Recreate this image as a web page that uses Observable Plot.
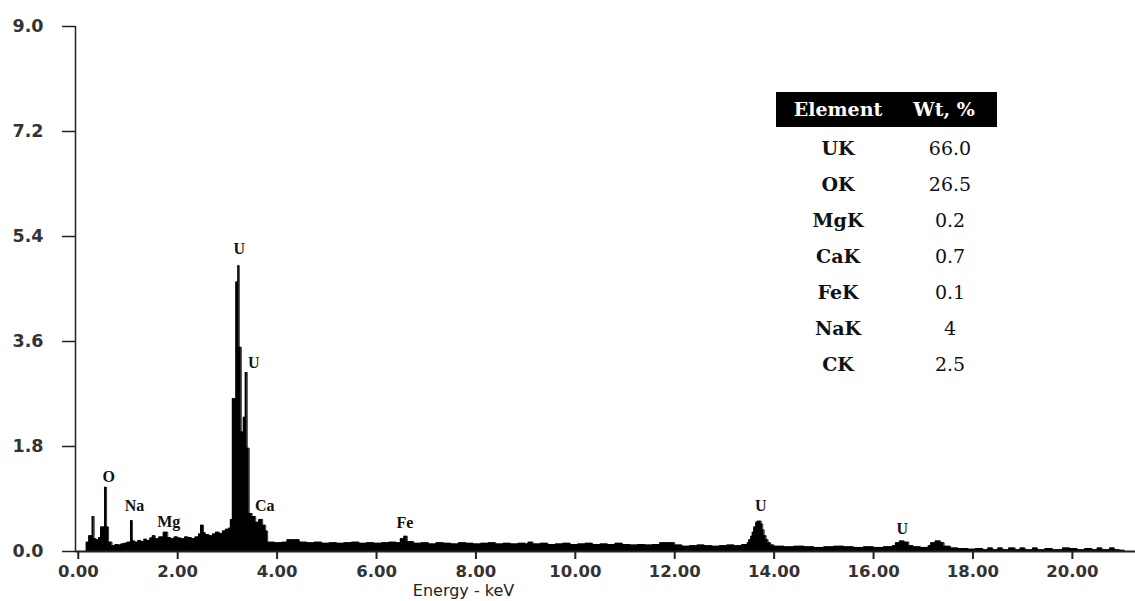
<!DOCTYPE html>
<html>
<head>
<meta charset="utf-8">
<script src="https://cdn.jsdelivr.net/npm/d3@7"></script>
<script src="https://cdn.jsdelivr.net/npm/@observablehq/plot@0.6"></script>
<style>
  html, body { margin: 0; padding: 0; background: #fff; }
  #wrap { position: relative; width: 1135px; height: 601px; overflow: hidden; }
  #tbl { position: absolute; left: 0; top: 0; width: 1135px; height: 601px; pointer-events: none; }
  .cell { position: absolute; text-align: center; font-family: "DejaVu Serif", serif; font-size: 19px; color: #111; }
  .hdr { background: #000; color: #fff; font-weight: bold; }
  .lab { font-weight: bold; }
</style>
</head>
<body>
<div id="wrap"><div id="chart"></div><div id="tbl"></div></div>
<script>
// ---- data ----
const xTicks = [0, 2, 4, 6, 8, 10, 12, 14, 16, 18, 20];
const yTicks = [0, 1.8, 3.6, 5.4, 7.2, 9.0];

const spectrumEnergy = [
  0.00, 0.16, 0.21, 0.28, 0.32, 0.36, 0.41, 0.45, 0.53, 0.57, 0.61, 0.68, 0.74, 0.80, 0.86, 0.92, 0.98,
  1.05, 1.09, 1.14, 1.20, 1.26, 1.32, 1.38, 1.44, 1.49, 1.55, 1.62, 1.71, 1.80, 1.86, 1.93, 2.00, 2.07,
  2.14, 2.21, 2.28, 2.35, 2.42, 2.46, 2.52, 2.56, 2.63, 2.70, 2.76, 2.84, 2.90, 2.96, 3.02, 3.06, 3.10,
  3.17, 3.21, 3.24, 3.28, 3.32, 3.36, 3.40, 3.44, 3.50, 3.57, 3.63, 3.71, 3.77, 3.81, 3.95, 4.10, 4.20,
  4.45, 4.60, 4.75, 4.90, 5.05, 5.20, 5.35, 5.50, 5.65, 5.80, 5.95, 6.10, 6.25, 6.40, 6.48, 6.55, 6.62,
  6.75, 6.90, 7.05, 7.20, 7.35, 7.50, 7.65, 7.80, 7.95, 8.10, 8.25, 8.40, 8.55, 8.70, 8.85, 9.00, 9.05,
  9.15, 9.30, 9.45, 9.60, 9.75, 9.90, 10.05, 10.20, 10.35, 10.50, 10.65, 10.80, 10.95, 11.10, 11.25,
  11.40, 11.55, 11.70, 12.00, 12.15, 12.30, 12.45, 12.60, 12.75, 12.90, 13.05, 13.20, 13.35, 13.46,
  13.49, 13.53, 13.56, 13.59, 13.63, 13.66, 13.74, 13.77, 13.80, 13.84, 13.88, 13.93, 14.00, 14.20,
  14.40, 14.60, 14.80, 15.00, 15.20, 15.40, 15.60, 15.80, 16.00, 16.20, 16.38, 16.44, 16.52, 16.62,
  16.71, 16.80, 16.95, 17.10, 17.15, 17.24, 17.35, 17.42, 17.55, 17.70, 17.90, 18.05, 18.20, 18.30,
  18.40, 18.50, 18.60, 18.72, 18.85, 18.95, 19.05, 19.20, 19.30, 19.45, 19.60, 19.80, 19.95, 20.10,
  20.25, 20.40, 20.50, 20.60, 20.75, 20.85, 20.95, 21.05
];
const spectrumCounts = [
  0.00, 0.16, 0.27, 0.60, 0.22, 0.20, 0.24, 0.42, 1.10, 0.42, 0.16, 0.10, 0.12, 0.11, 0.13, 0.14, 0.16,
  0.53, 0.18, 0.16, 0.19, 0.17, 0.21, 0.19, 0.23, 0.27, 0.22, 0.25, 0.33, 0.24, 0.22, 0.25, 0.23, 0.22,
  0.25, 0.24, 0.22, 0.25, 0.30, 0.45, 0.32, 0.29, 0.27, 0.30, 0.33, 0.31, 0.35, 0.38, 0.40, 0.55, 2.62,
  4.62, 4.90, 3.50, 2.05, 2.30, 3.07, 1.77, 0.65, 0.60, 0.50, 0.55, 0.45, 0.35, 0.16, 0.15, 0.16, 0.20,
  0.16, 0.15, 0.16, 0.14, 0.15, 0.14, 0.15, 0.16, 0.14, 0.15, 0.14, 0.15, 0.16, 0.15, 0.22, 0.26, 0.17,
  0.14, 0.15, 0.13, 0.15, 0.14, 0.13, 0.15, 0.14, 0.13, 0.14, 0.15, 0.13, 0.14, 0.13, 0.14, 0.13, 0.16,
  0.13, 0.14, 0.12, 0.13, 0.14, 0.12, 0.13, 0.14, 0.12, 0.13, 0.12, 0.14, 0.12, 0.11, 0.12,
  0.11, 0.12, 0.15, 0.11, 0.09, 0.10, 0.11, 0.10, 0.09, 0.10, 0.11, 0.10, 0.12, 0.15,
  0.20, 0.26, 0.33, 0.42, 0.50, 0.52, 0.47, 0.37, 0.27, 0.20, 0.15, 0.11, 0.09, 0.08,
  0.09, 0.08, 0.07, 0.08, 0.09, 0.08, 0.07, 0.08, 0.07, 0.08, 0.10, 0.15, 0.18, 0.16,
  0.10, 0.08, 0.07, 0.10, 0.15, 0.18, 0.15, 0.09, 0.06, 0.05, 0.04, 0.05, 0.03, 0.06,
  0.03, 0.06, 0.03, 0.06, 0.03, 0.06, 0.03, 0.06, 0.03, 0.05, 0.03, 0.06, 0.05, 0.03,
  0.05, 0.03, 0.06, 0.03, 0.06, 0.03, 0.02, 0.00
];

const peakLabels = ["O", "Na", "Mg", "U", "U", "Ca", "Fe", "U", "U"];
const peakEnergy = [0.61, 1.13, 1.82, 3.24, 3.53, 3.75, 6.57, 13.73, 16.58];
const peakHeight = [1.28, 0.79, 0.50, 5.19, 3.24, 0.78, 0.49, 0.79, 0.39];

const tableElements = ["UK", "OK", "MgK", "CaK", "FeK", "NaK", "CK"];
const tableWt = ["66.0", "26.5", "0.2", "0.7", "0.1", "4", "2.5"];
const tableHeader = ["Element", "Wt, %"];

// ---- chart ----
const xDomain = [-0.056, 21.27];
const spectrum = spectrumEnergy.map((e, i) => ({e, v: spectrumCounts[i]}));
const peaks = peakLabels.map((t, i) => ({t, e: peakEnergy[i], v: peakHeight[i]}));

const chart = Plot.plot({
  width: 1135,
  height: 601,
  marginLeft: 75,
  marginRight: 0,
  marginTop: 26,
  marginBottom: 50,
  style: {fontFamily: "DejaVu Sans, sans-serif", background: "#fff", color: "#222"},
  x: {domain: xDomain},
  y: {domain: [0, 9]},
  marks: [
    Plot.areaY(spectrum, {x: "e", y: "v", curve: "step-after", fill: "#000"}),
    Plot.lineY(spectrum, {x: "e", y: "v", curve: "step-after", stroke: "#000", strokeWidth: 0.8}),
    Plot.ruleX([xDomain[0]], {stroke: "#222", strokeWidth: 1.5}),
    Plot.ruleY([0], {stroke: "#222", strokeWidth: 2}),
    Plot.axisX({ticks: xTicks, tickFormat: d => d.toFixed(2), tickSize: 8, tickPadding: 6,
      strokeWidth: 2, stroke: "#222", fontSize: 16.5, fontWeight: "bold", fill: "#333", label: null}),
    Plot.axisY({ticks: yTicks, tickFormat: d => d.toFixed(1), tickSize: 13, tickPadding: 19,
      strokeWidth: 1.5, stroke: "#222", fontSize: 17.5, fontWeight: "bold", fill: "#333", label: null}),
    Plot.text(peaks, {x: "e", y: "v", text: "t", fontFamily: "Liberation Serif, serif",
      fontWeight: "bold", fontSize: 16, fill: "#111"}),
    Plot.text(["Energy - keV"], {text: d => d, frameAnchor: "bottom-left", lineAnchor: "middle",
      dx: 388, dy: 39, fontSize: 16, fill: "#222", textAnchor: "middle"})
  ]
});
document.getElementById("chart").appendChild(chart);

// ---- table overlay ----
const tbl = document.getElementById("tbl");
function cell(txt, left, width, top, height, cls) {
  const d = document.createElement("div");
  d.className = "cell " + cls;
  d.textContent = txt;
  d.style.left = left + "px"; d.style.width = width + "px";
  d.style.top = top + "px"; d.style.height = height + "px"; d.style.lineHeight = height + "px";
  tbl.appendChild(d);
}
const hdrBg = document.createElement("div");
hdrBg.className = "cell hdr";
Object.assign(hdrBg.style, {left: "776px", top: "92px", width: "221px", height: "35px"});
tbl.appendChild(hdrBg);
cell(tableHeader[0], 778, 120, 92, 35, "hdr");
cell(tableHeader[1], 894, 100, 92, 35, "hdr");
tableElements.forEach((el, i) => {
  const top = 130 + 36 * i;
  cell(el, 778, 120, top, 36, "lab");
  cell(tableWt[i], 900, 100, top, 36, "");
});
</script>
</body>
</html>
